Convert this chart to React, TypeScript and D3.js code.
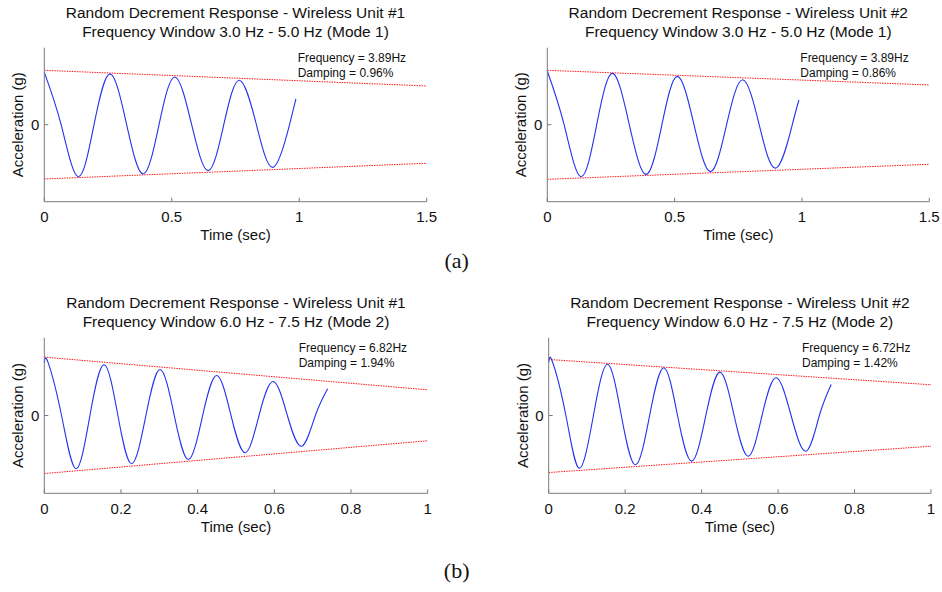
import React from "react";
import * as d3 from "d3";

// ---------- Data ----------
const mode1Ticks = [0, 0.5, 1, 1.5];
const mode2Ticks = [0, 0.2, 0.4, 0.6, 0.8, 1];

const titlesUnit1Mode1 = ["Random Decrement Response - Wireless Unit #1", "Frequency Window 3.0 Hz - 5.0 Hz (Mode 1)"];
const titlesUnit2Mode1 = ["Random Decrement Response - Wireless Unit #2", "Frequency Window 3.0 Hz - 5.0 Hz (Mode 1)"];
const titlesUnit1Mode2 = ["Random Decrement Response - Wireless Unit #1", "Frequency Window 6.0 Hz - 7.5 Hz (Mode 2)"];
const titlesUnit2Mode2 = ["Random Decrement Response - Wireless Unit #2", "Frequency Window 6.0 Hz - 7.5 Hz (Mode 2)"];

const notesUnit1Mode1 = ["Frequency = 3.89Hz", "Damping = 0.96%"];
const notesUnit2Mode1 = ["Frequency = 3.89Hz", "Damping = 0.86%"];
const notesUnit1Mode2 = ["Frequency = 6.82Hz", "Damping = 1.94%"];
const notesUnit2Mode2 = ["Frequency = 6.72Hz", "Damping = 1.42%"];

const u1m1Time = [0, 0.066, 0.133, 0.195, 0.258, 0.323, 0.388, 0.45, 0.512, 0.578, 0.643, 0.704, 0.765, 0.832, 0.898, 0.962, 0.987];
const u1m1Accel = [0.68, 0, -0.675, 0, 0.658, 0, -0.64, 0, 0.62, 0, -0.597, 0, 0.577, 0, -0.553, 0, 0.334];
const u1m1EnvTime = [0, 1.5];
const u1m1EnvUpper = [0.706, 0.503];
const u1m1EnvLower = [-0.705, -0.501];

const u2m1Time = [0, 0.066, 0.132, 0.194, 0.256, 0.322, 0.388, 0.45, 0.511, 0.576, 0.641, 0.704, 0.767, 0.832, 0.898, 0.962, 0.988];
const u2m1Accel = [0.697, 0, -0.675, 0, 0.667, 0, -0.645, 0, 0.628, 0, -0.61, 0, 0.584, 0, -0.563, 0, 0.321];
const u2m1EnvTime = [0, 1.5];
const u2m1EnvUpper = [0.706, 0.516];
const u2m1EnvLower = [-0.709, -0.514];

const u1m2Time = [0, 0.01, 0.045, 0.0827, 0.119, 0.156, 0.192, 0.228, 0.265, 0.302, 0.339, 0.376, 0.413, 0.45, 0.487, 0.524, 0.56, 0.597, 0.634, 0.671, 0.707, 0.739];
const u1m2Accel = [0.677, 0.68, 0, -0.685, 0, 0.652, 0, -0.621, 0, 0.591, 0, -0.566, 0, 0.514, 0, -0.479, 0, 0.437, 0, -0.395, 0, 0.343];
const u1m2EnvTime = [0, 1];
const u1m2EnvUpper = [0.75, 0.33];
const u1m2EnvLower = [-0.746, -0.325];

const u2m2Time = [0, 0.01, 0.045, 0.08, 0.117, 0.154, 0.19, 0.227, 0.264, 0.301, 0.337, 0.374, 0.411, 0.448, 0.485, 0.522, 0.558, 0.595, 0.634, 0.673, 0.708, 0.739];
const u2m2Accel = [0.685, 0.688, 0, -0.677, 0, 0.659, 0, -0.634, 0, 0.613, 0, -0.587, 0, 0.557, 0, -0.523, 0, 0.485, 0, -0.459, 0, 0.398];
const u2m2EnvTime = [0, 1];
const u2m2EnvUpper = [0.72, 0.395];
const u2m2EnvLower = [-0.733, -0.395];

const yDomain = [-1, 1];
const yTicks = [0];

const FONT = "'Liberation Sans', Arial, Helvetica, sans-serif";

type PanelProps = {
  x0: number; x1: number; yTop: number; yBot: number;
  xMax: number; xTicks: number[];
  time: number[]; accel: number[];
  envTime: number[]; envUpper: number[]; envLower: number[];
  titles: string[]; notes: string[];
};

function Panel(p: PanelProps) {
  const x = d3.scaleLinear().domain([0, p.xMax]).range([p.x0, p.x1]);
  const y = d3.scaleLinear().domain(yDomain).range([p.yBot, p.yTop]);
  const wave = d3.line<number>().x((_, i) => x(p.time[i])).y((d) => y(d)).curve(d3.curveNatural)(p.accel) || "";
  const env = (vals: number[]) =>
    d3.line<number>().x((_, i) => x(p.envTime[i])).y((d) => y(d))(vals) || "";
  const cx = (p.x0 + p.x1) / 2;
  const cy = (p.yTop + p.yBot) / 2;
  const axisColor = "#7a7a7a";
  return (
    <g fontFamily={FONT}>
      {p.titles.map((t, i) => (
        <text key={t + i} x={cx} y={p.yTop - 29.5 + i * 18.3} textAnchor="middle" fontSize={15.5} fill="#111">{t}</text>
      ))}
      <path d={env(p.envUpper)} fill="none" stroke="#ff1a1a" strokeWidth={1} strokeDasharray="1.5 1" />
      <path d={env(p.envLower)} fill="none" stroke="#ff1a1a" strokeWidth={1} strokeDasharray="1.5 1" />
      <path d={wave} fill="none" stroke="#2233ee" strokeWidth={1.1} />
      <line x1={p.x0} x2={p.x0} y1={p.yTop} y2={p.yBot} stroke={axisColor} strokeWidth={1} />
      <line x1={p.x0} x2={p.x1} y1={p.yBot} y2={p.yBot} stroke={axisColor} strokeWidth={1} />
      {p.xTicks.map((t) => (
        <g key={"xt" + t}>
          <line x1={x(t)} x2={x(t)} y1={p.yBot} y2={p.yBot - 4} stroke={axisColor} strokeWidth={1} />
          <text x={x(t)} y={p.yBot + 20.5} textAnchor="middle" fontSize={15} fill="#111">{String(t)}</text>
        </g>
      ))}
      {yTicks.map((t) => (
        <g key={"yt" + t}>
          <line x1={p.x0} x2={p.x0 + 4} y1={y(t)} y2={y(t)} stroke={axisColor} strokeWidth={1} />
          <text x={p.x0 - 5} y={y(t)} textAnchor="end" dominantBaseline="central" fontSize={15} fill="#111">{String(t)}</text>
        </g>
      ))}
      <text x={cx} y={p.yBot + 38.5} textAnchor="middle" fontSize={15} fill="#111">Time (sec)</text>
      <text transform={`translate(${p.x0 - 21},${cy}) rotate(-90)`} textAnchor="middle" fontSize={15} fill="#111">Acceleration (g)</text>
      {p.notes.map((t, i) => (
        <text key={t} x={p.x1 - 129} y={p.yTop + 14 + i * 15} fontSize={12} fill="#111">{t}</text>
      ))}
    </g>
  );
}

export default function App() {
  return (
    <svg width={942} height={592} style={{ display: "block", position: "absolute", left: 0, top: 0, background: "#fff" }}>
      <rect x={0} y={0} width={942} height={592} fill="#fff" />
      <Panel x0={44.3} x1={426.7} yTop={47.7} yBot={201.7} xMax={1.5} xTicks={mode1Ticks}
        time={u1m1Time} accel={u1m1Accel} envTime={u1m1EnvTime} envUpper={u1m1EnvUpper} envLower={u1m1EnvLower}
        titles={titlesUnit1Mode1} notes={notesUnit1Mode1} />
      <Panel x0={547.3} x1={929.3} yTop={47.7} yBot={201.7} xMax={1.5} xTicks={mode1Ticks}
        time={u2m1Time} accel={u2m1Accel} envTime={u2m1EnvTime} envUpper={u2m1EnvUpper} envLower={u2m1EnvLower}
        titles={titlesUnit2Mode1} notes={notesUnit2Mode1} />
      <Panel x0={44.3} x1={427.7} yTop={337.7} yBot={493.3} xMax={1} xTicks={mode2Ticks}
        time={u1m2Time} accel={u1m2Accel} envTime={u1m2EnvTime} envUpper={u1m2EnvUpper} envLower={u1m2EnvLower}
        titles={titlesUnit1Mode2} notes={notesUnit1Mode2} />
      <Panel x0={548.7} x1={931} yTop={337.7} yBot={493.3} xMax={1} xTicks={mode2Ticks}
        time={u2m2Time} accel={u2m2Accel} envTime={u2m2EnvTime} envUpper={u2m2EnvUpper} envLower={u2m2EnvLower}
        titles={titlesUnit2Mode2} notes={notesUnit2Mode2} />
      <text x={456.7} y={267.5} textAnchor="middle" fontSize={22} fontFamily="'Liberation Serif', 'Times New Roman', serif" fill="#111">(a)</text>
      <text x={456.7} y={577.5} textAnchor="middle" fontSize={22} fontFamily="'Liberation Serif', 'Times New Roman', serif" fill="#111">(b)</text>
    </svg>
  );
}
